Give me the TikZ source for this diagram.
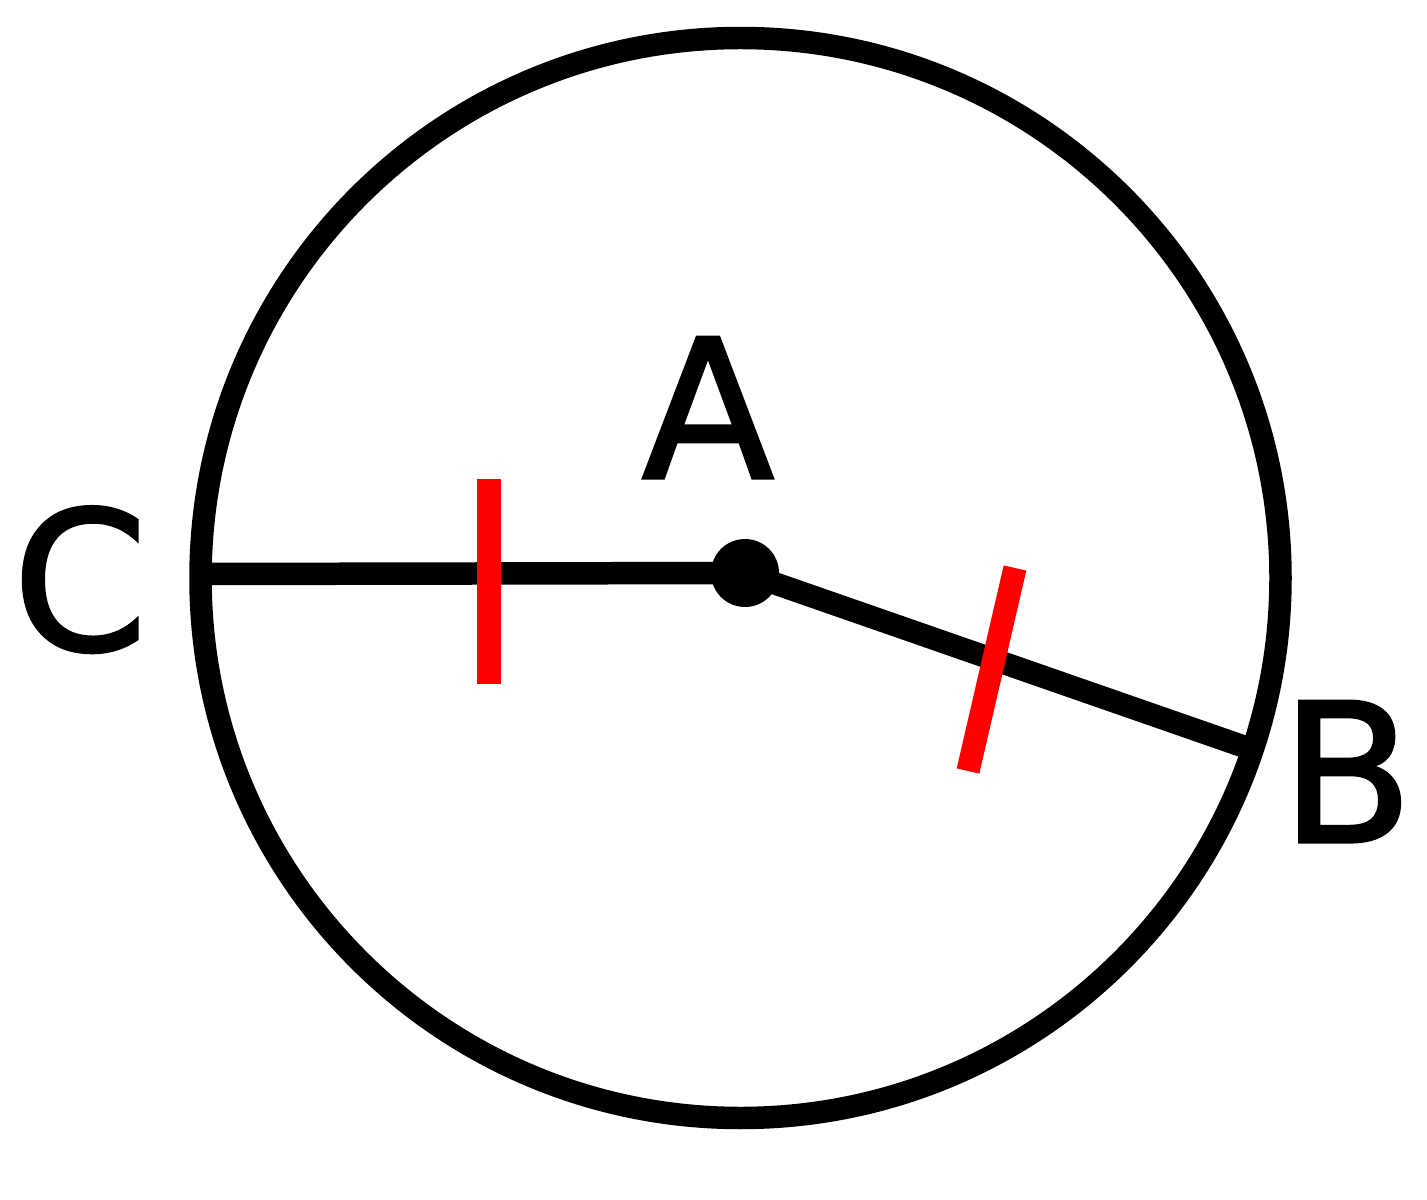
\documentclass[tikz,border=0pt]{standalone}
\usepackage{fontspec}
\setmainfont{DejaVu Sans}
\newfontfamily\lblfont[FakeBold=1.6]{DejaVu Sans}
\begin{document}
\begin{tikzpicture}[x=0.1mm,y=-0.1mm,
  thick line/.style={line width=6.4pt,black},
  tickmark/.style={line width=6.6pt,red,line cap=butt},
  ptlabel/.style={inner sep=0pt,anchor=base,font=\lblfont\fontsize{55}{60}\selectfont}]
\useasboundingbox (0,0) rectangle (1427,1200);
\coordinate (O) at (740.5,578);
\draw[thick line] (O) circle[radius=540];
\coordinate (A) at (745,573);
\coordinate (C) at (201,574);
\coordinate (B) at (1248,748);
\draw[thick line] (C) -- (A) -- (B);
\fill[black] (A) circle[radius=34];
\coordinate (t1a) at (489,479);
\coordinate (t1b) at (489,684);
\draw[tickmark] (t1a) -- (t1b);
\coordinate (t2a) at (1015,568);
\coordinate (t2b) at (968,771);
\draw[tickmark] (t2a) -- (t2b);
\node[ptlabel] (lA) at (708,478) {A};
\node[ptlabel] (lB) at (1347,842) {B};
\node[ptlabel] (lC) at (80,650) {C};
\end{tikzpicture}
\end{document}
